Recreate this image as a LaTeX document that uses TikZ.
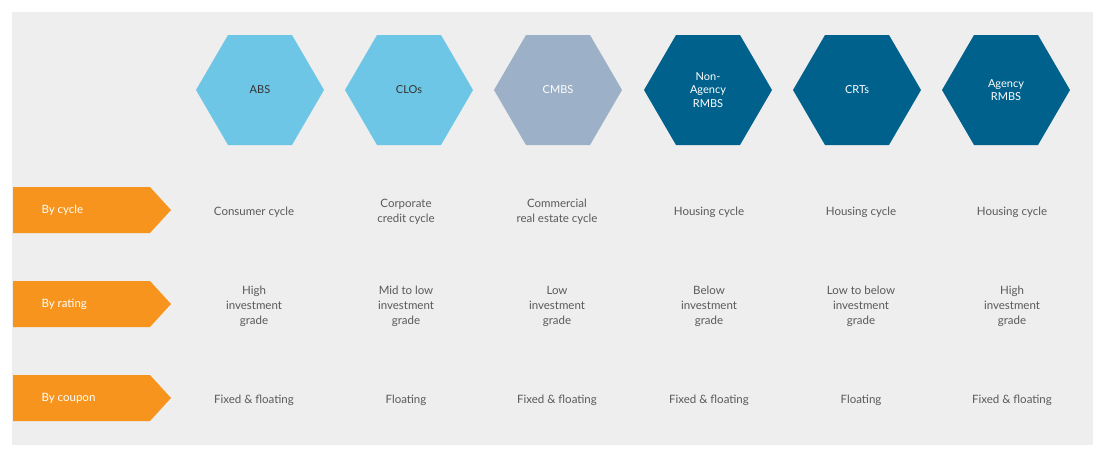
\documentclass[tikz,border=0pt]{standalone}
\usepackage{fontspec}
\setmainfont{Lato}
\usetikzlibrary{shapes.geometric}
\definecolor{bg}{HTML}{EEEEEE}
\definecolor{lb}{HTML}{6EC6E6}
\definecolor{gb}{HTML}{9CB0C8}
\definecolor{db}{HTML}{00628C}
\definecolor{org}{HTML}{F7941D}
\definecolor{tx}{HTML}{5A5A5A}
\begin{document}
\begin{tikzpicture}[x=1pt,y=-1pt,
  hex/.style={regular polygon,regular polygon sides=6,shape border rotate=0,minimum width=128pt,inner sep=0pt,align=center,font=\fontsize{11}{13}\selectfont},
  cell/.style={align=center,text=tx,font=\fontsize{11.5}{15}\selectfont},
  tag/.style={text=white,font=\fontsize{11.5}{14}\selectfont,anchor=west}]
\useasboundingbox (0,0) rectangle (1105,456);
\fill[bg] (12,12) rectangle (1093,445);
\foreach \x/\t/\c/\tc [count=\i] in {260/ABS/lb/black!80,409/CLOs/lb/black!80,558/CMBS/gb/white,708/{Non-\\Agency\\RMBS}/db/white,857/CRTs/db/white,1006/{Agency\\RMBS}/db/white}{
  \fill[\c] (\x-64,90) -- (\x-32,35) -- (\x+32,35) -- (\x+64,90) -- (\x+32,145) -- (\x-32,145) -- cycle;
  \node[text=\tc,align=center,font=\fontsize{11}{13.5}\selectfont] (h\i) at (\x,90) {\t};
}
\foreach \y/\t [count=\i] in {210/By cycle,304/By rating,398/By coupon}{
  \fill[org] (13,\y-23) -- (150,\y-23) -- (171,\y) -- (150,\y+23) -- (13,\y+23) -- cycle;
  \node[tag] (r\i) at (38,\y) {\t};
}
\foreach \x/\a/\b/\c [count=\i] in {
 254/Consumer cycle/{High\\investment\\grade}/Fixed \& floating,
 406/{Corporate\\credit cycle}/{Mid to low\\investment\\grade}/Floating,
 557/{Commercial\\real estate cycle}/{Low\\investment\\grade}/Fixed \& floating,
 709/Housing cycle/{Below\\investment\\grade}/Fixed \& floating,
 861/Housing cycle/{Low to below\\investment\\grade}/Floating,
 1012/Housing cycle/{High\\investment\\grade}/Fixed \& floating}{
  \node[cell] (a\i) at (\x,212) {\a};
  \node[cell] (b\i) at (\x,306) {\b};
  \node[cell] (c\i) at (\x,400) {\c};
}
\end{tikzpicture}
\end{document}
